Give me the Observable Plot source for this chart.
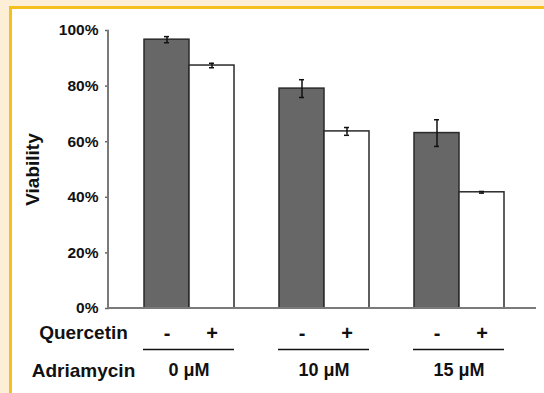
<!DOCTYPE html>
<html>
<head>
<meta charset="utf-8">
<script src="https://cdn.jsdelivr.net/npm/d3@7"></script>
<script src="https://cdn.jsdelivr.net/npm/@observablehq/plot@0.6"></script>
<style>
  html, body { margin: 0; padding: 0; background: #fcefd6; width: 544px; height: 393px; overflow: hidden; }
  #frame { position: absolute; left: 9px; top: 6px; width: 532px; height: 384px;
           border-left: 3px solid #f5c01e; border-top: 3px solid #f5c01e; background: #fff; }
</style>
</head>
<body>
<div id="frame"></div>
<script>
const groups = ["0 μM", "10 μM", "15 μM"];
const quercetin = ["-", "+"];
const viabilityMinus = [96.7, 79.1, 63.1];
const viabilityPlus = [87.4, 63.7, 41.8];
const errorMinus = [1.1, 3.2, 4.8];
const errorPlus = [0.8, 1.4, 0.3];
const yTicks = [0, 20, 40, 60, 80, 100];

const data = [];
groups.forEach((g, i) => {
  data.push({group: g, q: "-", v: viabilityMinus[i], e: errorMinus[i]});
  data.push({group: g, q: "+", v: viabilityPlus[i], e: errorPlus[i]});
});

const W = 532, H = 384;
const ML = 96, MR = 4, MT = 21, MB = 85;
const PAD_IN = 0.3235, PAD_OUT = 0.25;
const step = (W - ML - MR) / (groups.length - PAD_IN + 2 * PAD_OUT);
const axisShift = -PAD_OUT * step; // from the first facet's left edge back to the plot's left margin
const font = "'Liberation Sans', Arial, sans-serif";

const plot = Plot.plot({
  width: W,
  height: H,
  marginLeft: ML,
  marginRight: MR,
  marginTop: MT,
  marginBottom: MB,
  style: {fontFamily: font, color: "#111", background: "transparent", overflow: "visible"},
  fx: {domain: groups, paddingInner: PAD_IN, paddingOuter: PAD_OUT},
  x: {domain: quercetin, padding: 0},
  y: {domain: [0, 100]},
  marks: [
    Plot.barY(data, {fx: "group", x: "q", y: "v",
      fill: d => d.q === "-" ? "#676767" : "#ffffff",
      stroke: "#2a2a2a", strokeWidth: 1.5}),
    Plot.ruleX(data, {fx: "group", x: "q", y1: d => d.v - d.e, y2: d => d.v + d.e,
      stroke: "#111", strokeWidth: 1.5}),
    Plot.tickY(data, {fx: "group", x: "q", y: d => d.v - d.e, insetLeft: 20, insetRight: 20,
      stroke: "#111", strokeWidth: 1.5}),
    Plot.tickY(data, {fx: "group", x: "q", y: d => d.v + d.e, insetLeft: 20, insetRight: 20,
      stroke: "#111", strokeWidth: 1.5}),
    Plot.ruleY([0], {dy: 41, stroke: "#111", strokeWidth: 1.5}),
    Plot.axisY({ticks: yTicks, tickFormat: d => d + "%", tickSize: 4, tickPadding: 7,
      dx: axisShift, stroke: "#666", strokeWidth: 1.5,
      fontSize: 15.5, fontWeight: "bold",
      label: "Viability", labelAnchor: "center", labelArrow: "none", labelOffset: 118}),
    Plot.axisX({tickSize: 0, tickPadding: 17, label: null, fontSize: 20, fontWeight: "bold"}),
    Plot.axisFx({anchor: "bottom", tickSize: 0, tickPadding: 55, label: null, fontSize: 18, fontWeight: "bold"}),
    Plot.text([{group: groups[0], t: "Quercetin"}], {fx: "group", text: "t", frameAnchor: "bottom-left",
      textAnchor: "middle", dx: -60, dy: 30, fontSize: 19, fontWeight: "bold"}),
    Plot.text([{group: groups[0], t: "Adriamycin"}], {fx: "group", text: "t", frameAnchor: "bottom-left",
      textAnchor: "middle", dx: -60, dy: 68, fontSize: 19, fontWeight: "bold"})
  ]
});

// Full-width axis lines drawn from the plot's own scales
const ys = plot.scale("y");
const y0 = ys.apply(0), y100 = ys.apply(100);
const svg = d3.select(plot);
svg.append("line").attr("x1", ML).attr("x2", W - 8).attr("y1", y0).attr("y2", y0)
  .attr("stroke", "#7a7a7a").attr("stroke-width", 2);
svg.append("line").attr("x1", ML).attr("x2", ML).attr("y1", y100).attr("y2", y0)
  .attr("stroke", "#7a7a7a").attr("stroke-width", 2);
svg.selectAll("[aria-label='y-axis label'] text, [aria-label='y-axis label']")
  .attr("font-size", 19).attr("font-weight", "bold");

document.getElementById("frame").appendChild(plot);
</script>
</body>
</html>
